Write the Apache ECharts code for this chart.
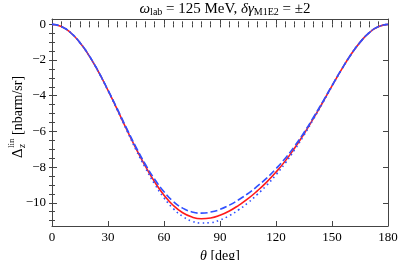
<!DOCTYPE html>
<html><head><meta charset="utf-8">
<script src="https://cdn.jsdelivr.net/npm/echarts@6/dist/echarts.min.js"></script>
<style>html,body{margin:0;padding:0;background:#fff}#c{width:399px;height:260px}</style>
</head><body><div id="c"></div>
<script>
const theta = [0,5,10,15,20,25,30,35,40,45,50,55,60,65,70,75,80,85,90,95,100,105,110,115,120,125,130,135,140,145,150,155,160,165,170,175,180];
const redSolid = [0,-0.12,-0.47,-1.03,-1.78,-2.68,-3.70,-4.78,-5.89,-6.96,-7.95,-8.83,-9.57,-10.15,-10.56,-10.80,-10.89,-10.85,-10.70,-10.46,-10.14,-9.77,-9.33,-8.84,-8.28,-7.65,-6.93,-6.14,-5.28,-4.38,-3.45,-2.55,-1.72,-1.01,-0.46,-0.12,0];
const blueDashed = [0,-0.12,-0.47,-1.03,-1.77,-2.67,-3.68,-4.74,-5.83,-6.88,-7.84,-8.68,-9.38,-9.93,-10.30,-10.51,-10.58,-10.52,-10.37,-10.13,-9.83,-9.48,-9.07,-8.62,-8.09,-7.50,-6.82,-6.06,-5.22,-4.34,-3.43,-2.54,-1.72,-1.01,-0.46,-0.12,0];
const blueDotted = [0,-0.12,-0.47,-1.03,-1.78,-2.69,-3.72,-4.81,-5.93,-7.03,-8.04,-8.95,-9.72,-10.33,-10.76,-11.03,-11.13,-11.11,-10.96,-10.72,-10.39,-10.00,-9.53,-9.02,-8.43,-7.77,-7.02,-6.21,-5.32,-4.41,-3.47,-2.56,-1.72,-1.01,-0.46,-0.12,0];
const xTicks = [0,30,60,90,120,150,180];
const yTicks = [0,-2,-4,-6,-8,-10];
const yMinor = [0,-0.5,-1,-1.5,-2,-2.5,-3,-3.5,-4,-4.5,-5,-5.5,-6,-6.5,-7,-7.5,-8,-8.5,-9,-9.5,-10,-10.5,-11];
const xMinor = [];
for (let v = 0; v <= 180; v += 5) xMinor.push(v);

const FONT = 'Liberation Serif';
const AX = '#444';
const pair = (xs, ys) => xs.map((x, i) => [x, ys[i]]);

const xBase = {type:'value', min:0, max:180, splitLine:{show:false}, offset:0};
const yBase = {type:'value', min:-11.3, max:0.3, splitLine:{show:false}, offset:0};

const chart = echarts.init(document.getElementById('c'), null, {renderer:'canvas'});
chart.setOption({
  animation:false,
  backgroundColor:'#fff',
  title:{
    text:'{it|ω}{sub|lab} = 125 MeV, {it|δγ}{sub|M1E2} = ±2',
    left:220, top:-3, textAlign:'center',
    textStyle:{fontFamily:FONT, fontSize:15, fontWeight:'normal', color:'#000',
      rich:{
        it:{fontFamily:FONT, fontSize:15, fontStyle:'italic', color:'#000'},
        sub:{fontFamily:FONT, fontSize:10, color:'#000', padding:[5,0,0,0]}
      }}
  },
  grid:{left:52, right:11, top:19, bottom:34, containLabel:false, outerBoundsMode:'none'},
  xAxis:[
    Object.assign({}, xBase, {position:'bottom',
      axisLine:{show:true, onZero:false, lineStyle:{color:AX, width:1}},
      axisTick:{show:true, inside:true, length:5, customValues:xTicks, lineStyle:{color:AX}},
      axisLabel:{show:true, customValues:xTicks, fontFamily:FONT, fontSize:13, color:'#000', margin:5},
      name:'{it|θ} [deg]', nameLocation:'middle', nameGap:17,
      nameTextStyle:{fontFamily:FONT, fontSize:14, color:'#000', rich:{it:{fontFamily:FONT, fontSize:14, fontStyle:'italic'}}}
    }),
    Object.assign({}, xBase, {position:'bottom',
      axisLine:{show:false}, axisLabel:{show:false},
      axisTick:{show:true, inside:true, length:3, customValues:xMinor, lineStyle:{color:AX}}
    }),
    Object.assign({}, xBase, {position:'top',
      axisLine:{show:true, onZero:false, lineStyle:{color:AX, width:1}}, axisLabel:{show:false},
      axisTick:{show:true, inside:true, length:5, customValues:xTicks, lineStyle:{color:AX}}
    }),
    Object.assign({}, xBase, {position:'top',
      axisLine:{show:false}, axisLabel:{show:false},
      axisTick:{show:true, inside:true, length:3, customValues:xMinor, lineStyle:{color:AX}}
    })
  ],
  yAxis:[
    Object.assign({}, yBase, {position:'left',
      axisLine:{show:true, onZero:false, lineStyle:{color:AX, width:1}},
      axisTick:{show:true, inside:true, length:5, customValues:yTicks, lineStyle:{color:AX}},
      axisLabel:{show:true, customValues:yTicks, fontFamily:FONT, fontSize:13, color:'#000', margin:6,
        formatter:v => String(v).replace('-', '\u2212')}
    }),
    Object.assign({}, yBase, {position:'left',
      axisLine:{show:false}, axisLabel:{show:false},
      axisTick:{show:true, inside:true, length:3, customValues:yMinor, lineStyle:{color:AX}}
    }),
    Object.assign({}, yBase, {position:'right',
      axisLine:{show:true, onZero:false, lineStyle:{color:AX, width:1}}, axisLabel:{show:false},
      axisTick:{show:true, inside:true, length:5, customValues:yTicks, lineStyle:{color:AX}}
    }),
    Object.assign({}, yBase, {position:'right',
      axisLine:{show:false}, axisLabel:{show:false},
      axisTick:{show:true, inside:true, length:3, customValues:yMinor, lineStyle:{color:AX}}
    })
  ],
  graphic:[{
    type:'group', x:18, y:104, rotation:Math.PI/2,
    children:[
      {type:'text', x:-54, y:0, style:{text:'Δ', font:'15px "Liberation Serif"', fill:'#000', textVerticalAlign:'middle'}},
      {type:'text', x:-44, y:-6, style:{text:'lin', font:'9px "Liberation Serif"', fill:'#000', textVerticalAlign:'middle'}},
      {type:'text', x:-44, y:4, style:{text:'z', font:'italic 10px "Liberation Serif"', fill:'#000', textVerticalAlign:'middle'}},
      {type:'text', x:-31, y:0, style:{text:'[nbarm/sr]', font:'14px "Liberation Serif"', fill:'#000', textVerticalAlign:'middle'}}
    ]
  }],
  series:[
    {type:'line', name:'red', data:pair(theta, redSolid), smooth:true, showSymbol:false, clip:true,
      lineStyle:{color:'#ff1a1a', width:1.6}},
    {type:'line', name:'dashed', data:pair(theta, blueDashed), smooth:true, showSymbol:false, clip:true,
      lineStyle:{color:'#3050ff', width:1.6, type:[7,3]}},
    {type:'line', name:'dotted', data:pair(theta, blueDotted), smooth:true, showSymbol:false, clip:true,
      lineStyle:{color:'#3050ff', width:1.6, type:[1.6,3.2]}}
  ]
});
</script>
</body></html>
